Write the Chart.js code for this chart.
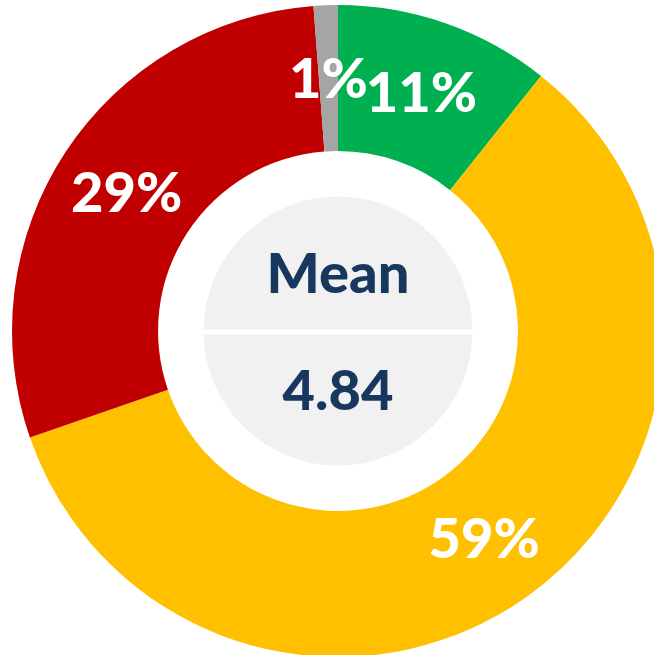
<!DOCTYPE html>
<html>
<head>
<meta charset="utf-8">
<script src="https://cdn.jsdelivr.net/npm/chart.js@4/dist/chart.umd.min.js"></script>
<style>
  html, body { margin: 0; padding: 0; background: #ffffff; overflow: hidden; }
  .chart-container { position: absolute; left: 0; top: 0; width: 676px; height: 662px; }
</style>
</head>
<body>
<div class="chart-container">
  <canvas id="meanChart" width="676" height="662"></canvas>
</div>
<script type="text/javascript">
  const categories = ["Green", "Yellow", "Red", "Gray"];
  const shares = [10.7, 59.0, 29.1, 1.2];
  const sliceColors = ["#00b050", "#ffc000", "#c00000", "#a5a5a5"];
  const centerTitle = "Mean";
  const centerValue = "4.84";

  const FONT = "Lato, 'Liberation Sans', sans-serif";

  // percent labels on each slice, white bold
  const sliceLabels = {
    id: "sliceLabels",
    afterDatasetsDraw(chart) {
      const ctx = chart.ctx;
      const meta = chart.getDatasetMeta(0);
      ctx.save();
      ctx.fillStyle = "#ffffff";
      ctx.font = "900 56px " + FONT;
      ctx.textAlign = "center";
      ctx.textBaseline = "alphabetic";
      meta.data.forEach(function (arc, i) {
        const p = arc.tooltipPosition();
        ctx.fillText(Math.round(shares[i]) + "%", p.x, p.y + 20);
      });
      ctx.restore();
    }
  };

  // gray disc with divider, "Mean" and value
  const centerBox = {
    id: "centerBox",
    afterDraw(chart) {
      const ctx = chart.ctx;
      const arc = chart.getDatasetMeta(0).data[0];
      const cx = arc.x, cy = arc.y;
      ctx.save();
      ctx.fillStyle = "#f1f1f1";
      ctx.beginPath();
      ctx.arc(cx, cy, 134.5, 0, Math.PI * 2);
      ctx.fill();
      ctx.fillStyle = "#ffffff";
      ctx.fillRect(cx - 140, cy - 1.5, 280, 5);
      ctx.fillStyle = "#17375e";
      ctx.font = "900 56px " + FONT;
      ctx.textAlign = "center";
      ctx.textBaseline = "alphabetic";
      ctx.fillText(centerTitle, cx, cy - 38);
      ctx.fillText(centerValue, cx, cy + 79);
      ctx.restore();
    }
  };

  new Chart("meanChart", {
    type: "doughnut",
    data: {
      labels: categories,
      datasets: [{
        data: shares,
        backgroundColor: sliceColors,
        borderWidth: 0
      }]
    },
    options: {
      responsive: false,
      animation: false,
      cutout: "55.2%",
      layout: { padding: 5 },
      plugins: {
        legend: { display: false },
        tooltip: { enabled: false }
      }
    },
    plugins: [sliceLabels, centerBox]
  });
</script>
</body>
</html>
